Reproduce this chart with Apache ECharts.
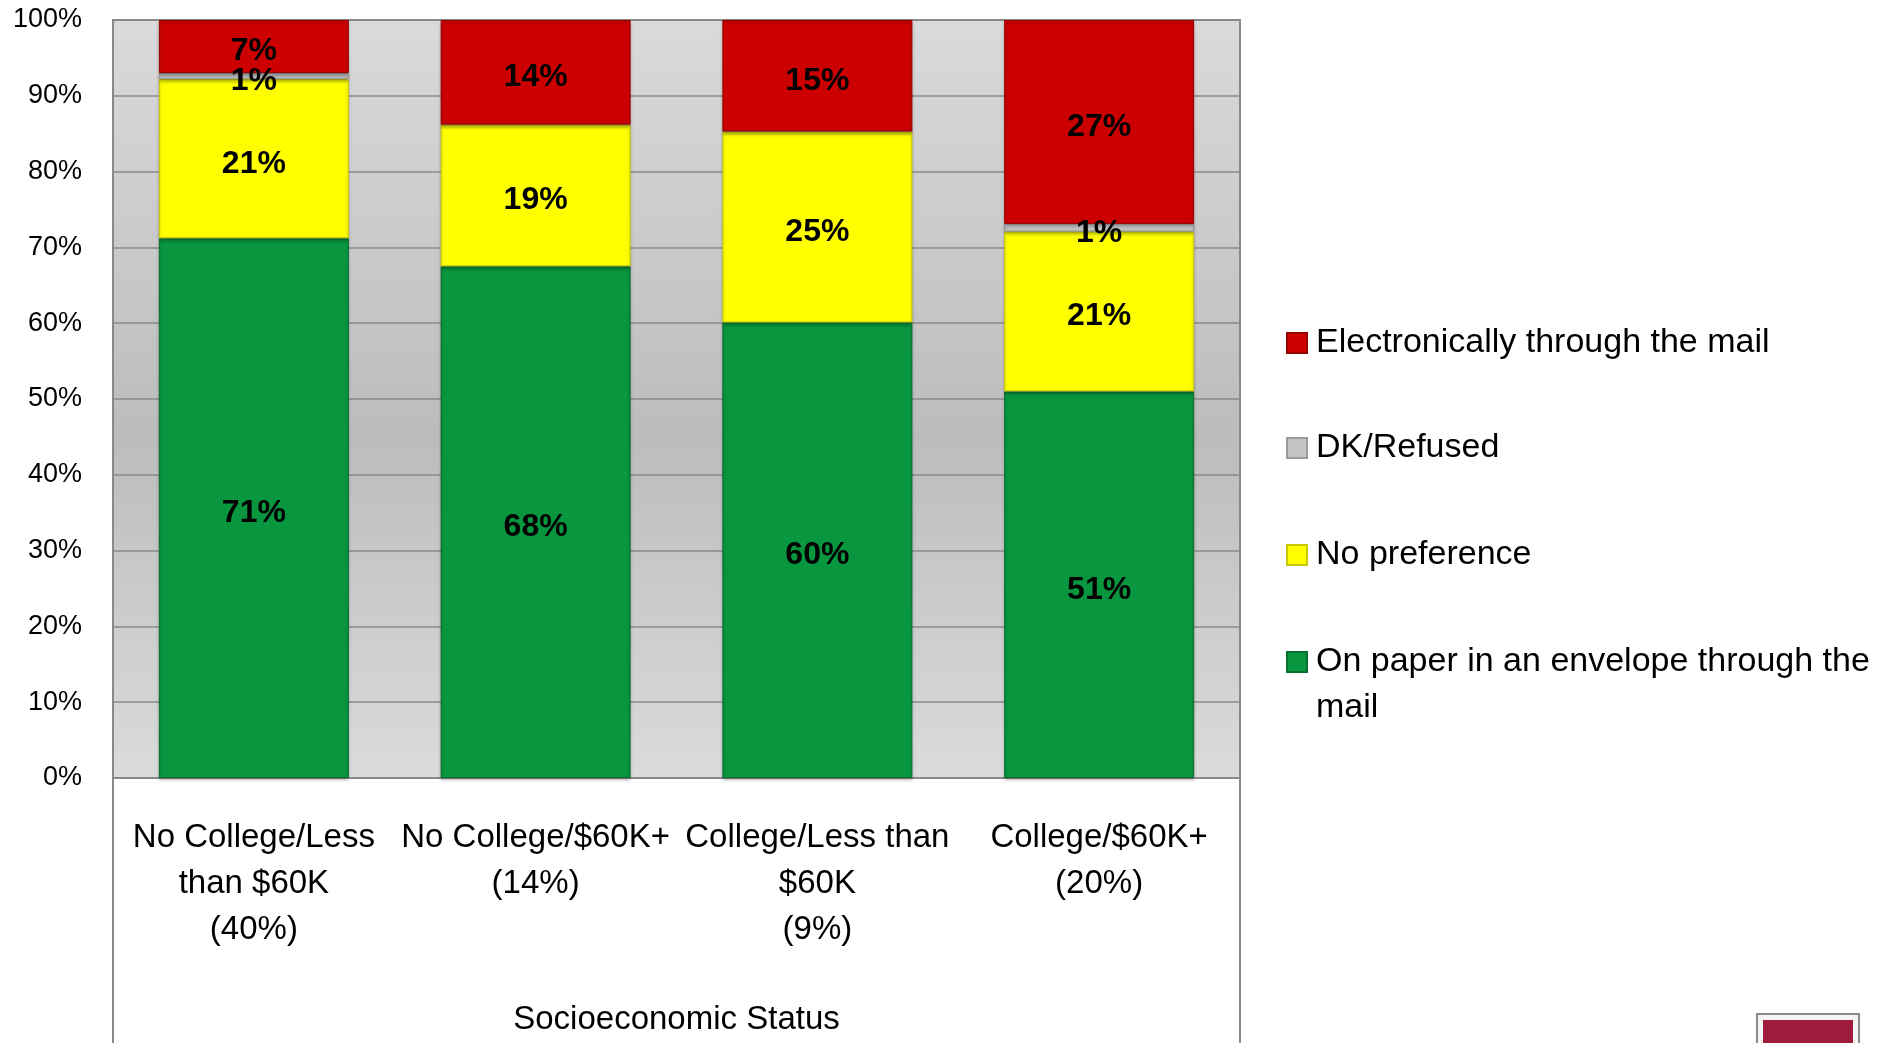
<!DOCTYPE html>
<html>
<head>
<meta charset="utf-8">
<title>Socioeconomic Status</title>
<script src="https://cdn.jsdelivr.net/npm/echarts@6/dist/echarts.min.js"></script>
<style>
  html, body { margin: 0; padding: 0; background: #fff; }
  #main { width: 1881px; height: 1043px; }
</style>
</head>
<body>
<div id="main"></div>
<script>
// categories along the bottom
const categories = [
  'No College/Less\nthan $60K\n(40%)',
  'No College/$60K+\n(14%)',
  'College/Less than\n$60K\n(9%)',
  'College/$60K+\n(20%)'
];
// percentages (bottom to top)
const paperMail = [71.2, 67.5, 60.1, 51.0];
const noPreference = [21.0, 18.7, 25.2, 21.1];
const dkRefused = [0.8, 0, 0, 1.0];
const electronic = [7.0, 13.8, 14.7, 26.9];
const yTicks = [0, 100, 10];

const font = 'Liberation Sans';

function pct(p) {
  if (p.value < 0.5) return '';
  return Math.round(p.value) + '%';
}

function barSeries(name, data, color, border) {
  return {
    name: name,
    type: 'bar',
    stack: 'all',
    barWidth: 190,
    data: data,
    itemStyle: {
      color: color,
      borderColor: border,
      borderWidth: 1,
      shadowColor: 'rgba(0,0,0,0.25)',
      shadowBlur: 3,
      shadowOffsetY: 2
    },
    label: {
      show: true,
      position: 'inside',
      offset: [0, 5],
      formatter: pct,
      color: '#000',
      fontFamily: font,
      fontWeight: 'bold',
      fontSize: 32
    }
  };
}

function legendItem(name, centerY, twoLines) {
  return {
    data: [name],
    orient: 'vertical',
    left: 1286,
    top: twoLines ? centerY - 69 : centerY - 20,
    padding: 0,
    icon: 'rect',
    itemWidth: 20,
    itemHeight: 20,
    selectedMode: false,
    // blank first line keeps the icon level with the first text line
    formatter: twoLines ? function (n) { return ' \nOn paper in an envelope through the\nmail'; } : '{name}',
    textStyle: {
      fontFamily: font,
      fontSize: 34,
      color: '#000',
      lineHeight: twoLines ? 46 : 40,
      padding: [0, 0, 0, 4]
    }
  };
}

const chart = echarts.init(document.getElementById('main'));

const option = {
  animation: false,
  backgroundColor: '#fff',
  grid: {
    left: 113,
    right: 641,
    top: 20,
    bottom: 265,
    show: true,
    borderColor: '#898989',
    borderWidth: 2,
    backgroundColor: new echarts.graphic.LinearGradient(0, 0, 0, 1, [
      { offset: 0, color: '#dadada' },
      { offset: 0.55, color: '#bcbcbc' },
      { offset: 1, color: '#dbdbdb' }
    ])
  },
  legend: [
    legendItem('Electronically through the mail', 343, false),
    legendItem('DK/Refused', 448, false),
    legendItem('No preference', 555, false),
    legendItem('On paper in an envelope through the mail', 662, true)
  ],
  xAxis: {
    type: 'category',
    data: categories,
    axisTick: { show: false },
    axisLine: { show: true, lineStyle: { color: '#898989', width: 2 } },
    axisLabel: {
      interval: 0,
      margin: 37,
      color: '#000',
      fontFamily: font,
      fontSize: 33,
      lineHeight: 46
    },
    name: 'Socioeconomic Status',
    nameLocation: 'middle',
    nameGap: 225,
    nameTextStyle: { color: '#000', fontFamily: font, fontSize: 33 }
  },
  yAxis: {
    type: 'value',
    min: yTicks[0],
    max: yTicks[1],
    interval: yTicks[2],
    axisLine: { show: false },
    axisTick: { show: false },
    splitLine: { lineStyle: { color: '#8a8a8a', width: 1.5 } },
    axisLabel: {
      formatter: '{value}%',
      margin: 31,
      padding: [5, 0, 0, 0],
      color: '#000',
      fontFamily: font,
      fontSize: 27
    }
  },
  series: [
    barSeries('On paper in an envelope through the mail', paperMail, '#08963f', '#05702f'),
    barSeries('No preference', noPreference, '#ffff00', '#c8c800'),
    barSeries('DK/Refused', dkRefused, '#c4c4c4', '#9a9a9a'),
    barSeries('Electronically through the mail', electronic, '#cc0000', '#990000')
  ],
  graphic: [
    {
      type: 'rect',
      z: 0,
      shape: { x: 113, y: 778, width: 1127, height: 300 },
      style: { fill: 'none', stroke: '#898989', lineWidth: 2 }
    },
    {
      type: 'rect',
      shape: { x: 1757, y: 1014, width: 102, height: 40 },
      style: { fill: '#f4f4f4', stroke: '#8a8a8a', lineWidth: 2 }
    },
    {
      type: 'rect',
      shape: { x: 1763, y: 1020, width: 90, height: 30 },
      style: { fill: '#9e1b3c' }
    }
  ]
};

chart.setOption(option);
</script>
</body>
</html>
